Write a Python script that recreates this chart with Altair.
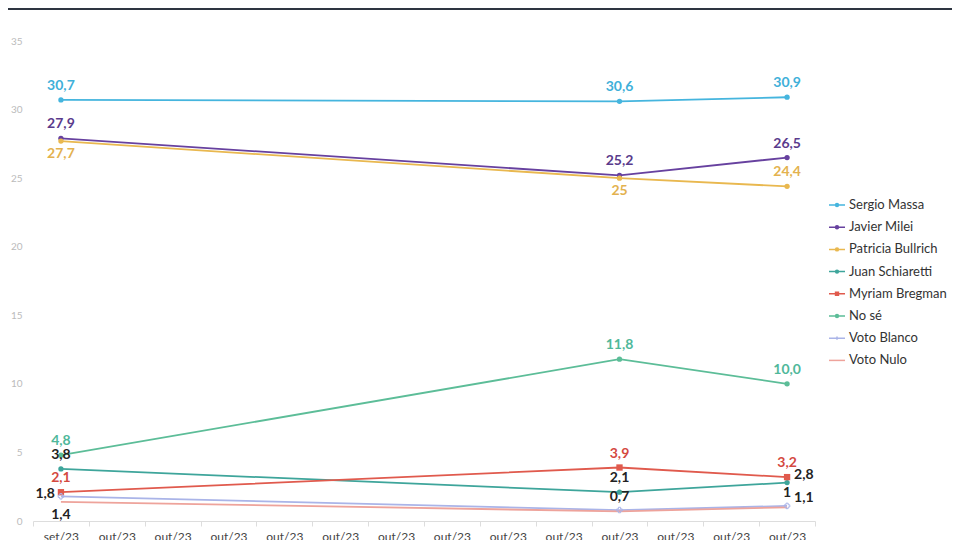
import altair as alt
import pandas as pd

# ---------------- data ----------------
categories = ["set/23"] + ["out/23"] * 13
point_idx = [0, 10, 13]

series = ["Sergio Massa", "Javier Milei", "Patricia Bullrich", "Juan Schiaretti",
          "Myriam Bregman", "No sé", "Voto Blanco", "Voto Nulo"]

massa = [30.7, 30.6, 30.9]
milei = [27.9, 25.2, 26.5]
bullrich = [27.7, 25.0, 24.4]
schiaretti = [3.8, 2.1, 2.8]
bregman = [2.1, 3.9, 3.2]
no_se = [4.8, 11.8, 10.0]
voto_blanco = [1.8, 0.8, 1.1]
voto_nulo = [1.4, 0.7, 1.0]

massa_lbl = ["30,7", "30,6", "30,9"]
milei_lbl = ["27,9", "25,2", "26,5"]
bullrich_lbl = ["27,7", "25", "24,4"]
schiaretti_lbl = ["3,8", "2,1", "2,8"]
bregman_lbl = ["2,1", "3,9", "3,2"]
no_se_lbl = ["4,8", "11,8", "10,0"]
voto_blanco_lbl = ["1,8", "", "1,1"]
voto_nulo_lbl = ["1,4", "0,7", "1"]

values = [massa, milei, bullrich, schiaretti, bregman, no_se, voto_blanco, voto_nulo]
labels = [massa_lbl, milei_lbl, bullrich_lbl, schiaretti_lbl, bregman_lbl,
          no_se_lbl, voto_blanco_lbl, voto_nulo_lbl]

# ---------------- styles ----------------
line_colors = ["#45b5de", "#67419f", "#e9b84f", "#3ea59b", "#e05a4d", "#5cbd98", "#aab4e8", "#eea39b"]
label_colors = {"Sergio Massa": "#3fb0d9", "Javier Milei": "#5a3b8c", "Patricia Bullrich": "#e3b24f",
                "Myriam Bregman": "#d4493f", "No sé": "#4fb89a"}
placement = {
    "Sergio Massa": ["above", "above", "above"],
    "Javier Milei": ["above", "above", "above"],
    "Patricia Bullrich": ["below", "below", "above"],
    "Juan Schiaretti": ["above", "above", "right"],
    "Myriam Bregman": ["above", "above", "above"],
    "No sé": ["above", "above", "above"],
    "Voto Blanco": ["left", "none", "right"],
    "Voto Nulo": ["below", "above", "above"],
}
marker = {"Sergio Massa": "circle", "Javier Milei": "circle", "Patricia Bullrich": "circle",
          "Juan Schiaretti": "circle", "Myriam Bregman": "square", "No sé": "circle",
          "Voto Blanco": "cross", "Voto Nulo": "none"}
legend_paths = {
    "circle": "M-1,0H1M-0.18,0A0.18,0.18,0,1,0,0.18,0A0.18,0.18,0,1,0,-0.18,0Z",
    "square": "M-1,0H1M-0.18,-0.18H0.18V0.18H-0.18Z",
    "cross": "M-1,0H1M0,-0.2V0.2",
    "none": "M-1,0H1",
}

rows = []
for s, vals, lbls in zip(series, values, labels):
    for k, (i, v, l) in enumerate(zip(point_idx, vals, lbls)):
        rows.append({"series": s, "idx": i, "value": v, "label": l,
                     "place": placement[s][k], "marker": marker[s],
                     "lcolor": label_colors.get(s, "#222222")})
df = pd.DataFrame(rows)

W, H = 782, 480
PL, PT, PR, PB = 25, 33, 137, 19
FONT = "Lato"

label_expr = "[" + ",".join("'%s'" % c for c in categories) + "][datum.value]"

x = alt.X("idx:O", scale=alt.Scale(type="band", domain=list(range(len(categories))),
                                   paddingInner=0, paddingOuter=0),
          axis=alt.Axis(title=None, labelExpr=label_expr, labelAngle=0, tickBand="extent",
                        domainColor="#dddddd", tickColor="#dddddd", tickSize=5,
                        labelColor="#444444", labelFontSize=12, labelFont=FONT, labelPadding=5))
y = alt.Y("value:Q", scale=alt.Scale(domain=[0, 35], nice=False, zero=True),
          axis=alt.Axis(title=None, values=list(range(0, 36, 5)), domain=False, ticks=False,
                        grid=False, labelColor="#bbbbbb", labelFontSize=10, labelFont=FONT,
                        labelPadding=11))
cscale = alt.Scale(domain=series, range=line_colors)
leg = alt.Legend(title=None, orient="none", legendX=795, legendY=155,
                 labelFont=FONT, labelFontSize=13, labelColor="#333333",
                 symbolSize=256, symbolStrokeWidth=1.5, rowPadding=6.2, labelOffset=3,
                 labelLimit=200)
color = alt.Color("series:N", scale=cscale, legend=leg)

base = alt.Chart(df)

lines = base.mark_line(strokeWidth=1.8).encode(x=x, y=y, color=color, detail="series:N")

circles = base.transform_filter(alt.datum.marker == "circle").mark_point(
    filled=True, size=28, opacity=1, shape="circle").encode(x=x, y=y, color=color)
squares = base.transform_filter(alt.datum.marker == "square").mark_point(
    filled=True, size=40, opacity=1, shape="square").encode(x=x, y=y, color=color)
crosses = base.transform_filter(alt.datum.marker == "cross").mark_point(
    filled=False, size=30, opacity=1, shape="cross", strokeWidth=1).encode(x=x, y=y, color=color)

text_base = dict(fontSize=14, fontWeight="bold", font=FONT)
offsets = {"above": dict(dx=0, dy=-14, align="center"),
           "below": dict(dx=0, dy=13, align="center"),
           "left": dict(dx=-6, dy=-2, align="right"),
           "right": dict(dx=7, dy=-8, align="left")}
texts = []
for p, off in offsets.items():
    texts.append(base.transform_filter(alt.datum.place == p).mark_text(
        baseline="middle", **text_base, **off).encode(
        x=x, y=y, text="label:N", color=alt.Color("lcolor:N", scale=None)))

legend_layer = base.transform_filter(alt.datum.idx < 0).mark_point(
    filled=False, strokeWidth=1.5, opacity=1).encode(
    x=x, y=y, color=color,
    shape=alt.Shape("series:N", scale=alt.Scale(domain=series,
                                                range=[legend_paths[marker[s]] for s in series]),
                    legend=leg))

topbar = alt.Chart(pd.DataFrame({"a": [0]})).mark_rect(color="#2e3541").encode(
    x=alt.value(-PL), x2=alt.value(W + PR), y=alt.value(-PT), y2=alt.value(-PT + 2))

chart = alt.layer(topbar, lines, circles, squares, crosses, *texts, legend_layer).properties(
    width=W, height=H,
    background="white",
    autosize=alt.AutoSizeParams(type="none"),
    padding={"left": PL, "top": PT, "right": PR, "bottom": PB},
).configure_view(stroke=None)

chart.save("out.html", embed_options={"renderer": "svg", "actions": False})
